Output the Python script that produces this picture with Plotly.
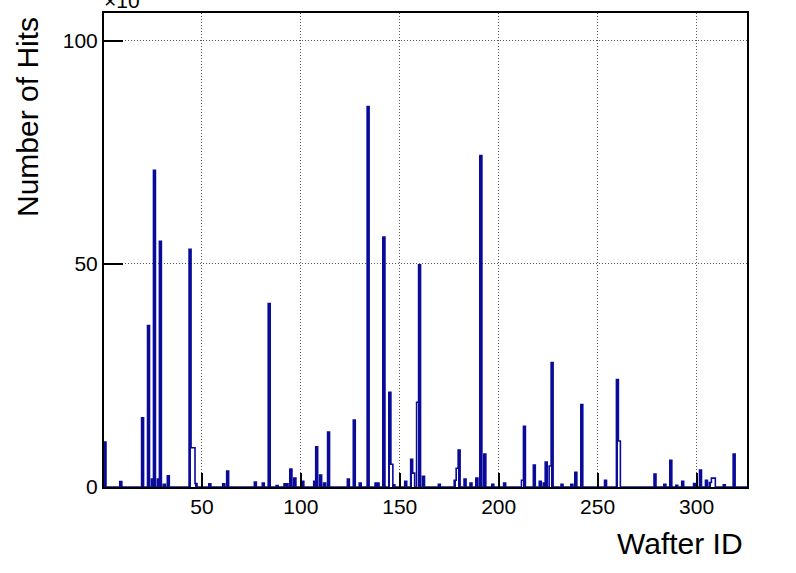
import plotly.graph_objects as go

# ---- data (hits in units of 10^3, per wafer bin) ----
n_bins = 325
hit_bins = [1, 9, 20, 23, 25, 26, 28, 29, 31, 33, 44, 45, 46, 47, 54, 61, 63, 77, 81, 84,
            88, 92, 93, 95, 97, 101, 107, 108, 110, 112, 114, 124, 127, 130, 134, 138, 139,
            142, 145, 146, 147, 153, 156, 157, 159, 160, 162, 170, 178, 179, 180, 183, 186,
            189, 191, 193, 197, 203, 212, 213, 218, 221, 223, 224, 226, 227, 232, 237, 239,
            242, 254, 260, 261, 279, 284, 287, 290, 293, 299, 302, 305, 307, 308, 309, 314, 319]
hits_k = [10.1, 1.2, 15.5, 36.2, 1.8, 71.0, 1.8, 55.1, 0.6, 2.5, 53.3, 8.8, 8.8, 0.8, 0.7, 0.7,
          3.6, 1.1, 0.9, 41.1, 0.3, 0.7, 0.7, 4.0, 2.0, 1.3, 1.3, 9.0, 2.7, 0.9, 12.3, 1.8, 15.0,
          0.9, 85.3, 0.9, 0.9, 56.0, 21.2, 5.1, 0.5, 1.3, 6.2, 3.1, 19.0, 49.8, 2.4, 0.6, 1.5,
          4.2, 8.3, 1.8, 0.9, 2.0, 74.3, 7.4, 0.6, 0.9, 1.5, 13.6, 4.9, 1.3, 0.9, 5.6, 4.7, 27.9,
          0.6, 0.6, 3.3, 18.5, 1.5, 24.1, 10.3, 2.9, 0.6, 6.0, 0.4, 1.3, 0.8, 3.8, 1.5, 1.0,
          2.0, 2.0, 0.5, 7.4]
outline_only_bins = [45, 46, 146, 157, 159, 179, 212, 226, 261, 308, 309]
x_ticks = [50, 100, 150, 200, 250, 300]
y_ticks = [0, 50, 100]
x_title = "Wafter ID"
y_title = "Number of Hits"

BLUE = "#0b0b99"
FONT = "Liberation Sans, Arial, Helvetica, sans-serif"

wafer_id = list(range(1, n_bins + 1))
values = [0.0] * n_bins
for b, v in zip(hit_bins, hits_k):
    values[b - 1] = v
colors = ["white" if b in outline_only_bins else BLUE for b in wafer_id]

edges = [b - 0.5 for b in wafer_id] + [n_bins + 0.5]
step_y = values + [values[-1]]

fig = go.Figure()
fig.add_trace(go.Bar(x=wafer_id, y=values, width=1.0,
                     marker=dict(color=colors, line=dict(width=0)),
                     showlegend=False, hoverinfo="x+y"))
fig.add_trace(go.Scatter(x=edges, y=step_y, mode="lines",
                         line=dict(color=BLUE, width=1.6, shape="hv"),
                         showlegend=False, hoverinfo="skip"))

fig.update_layout(
    width=796, height=573,
    margin=dict(l=104, r=49, t=11, b=86),
    paper_bgcolor="white", plot_bgcolor="white",
    bargap=0,
    font=dict(family=FONT, size=21, color="black"),
)
fig.update_xaxes(range=[0.5, n_bins + 0.5], tickvals=x_ticks, ticks="inside", ticklen=14,
                 tickwidth=1.5, tickcolor="black", showline=True, linecolor="black",
                 linewidth=2, mirror=True, showgrid=True, gridcolor="#555555",
                 griddash="1px,2px", gridwidth=1, zeroline=False,
                 tickfont=dict(family=FONT, size=21, color="black"))
fig.update_yaxes(range=[0, 106.25], tickvals=y_ticks, ticks="inside", ticklen=19,
                 tickwidth=1.5, tickcolor="black", showline=True, linecolor="black",
                 linewidth=2, mirror=True, showgrid=True, gridcolor="#555555",
                 griddash="1px,2px", gridwidth=1, zeroline=False,
                 tickfont=dict(family=FONT, size=21, color="black"))

fig.add_annotation(text=x_title, xref="paper", yref="paper", x=1, y=0,
                   xanchor="right", yanchor="middle", xshift=-2, yshift=-56,
                   showarrow=False, font=dict(family=FONT, size=30, color="black"))
fig.add_annotation(text=y_title, xref="paper", yref="paper", x=0, y=1,
                   xanchor="center", yanchor="top", xshift=-77, yshift=-2, textangle=-90,
                   showarrow=False, font=dict(family=FONT, size=30, color="black"))
fig.add_annotation(text="×10<sup>3</sup>", xref="paper", yref="paper", x=0, y=1,
                   xanchor="left", yanchor="bottom", xshift=-2, yshift=-1,
                   showarrow=False, font=dict(family=FONT, size=21, color="black"))

fig.write_html("out.html", config={"displayModeBar": False},
               post_script="document.body.style.margin='0px';document.body.style.overflow='hidden';")
